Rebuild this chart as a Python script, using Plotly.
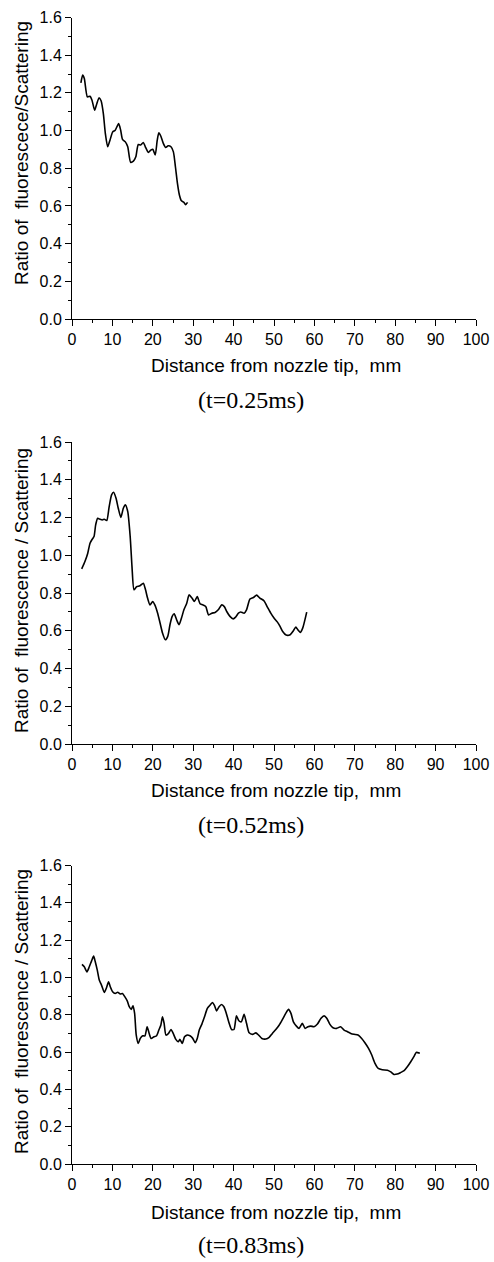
import plotly.graph_objects as go

# ---- data ----
x1 = [2.2, 2.64, 3.05, 3.8, 4.46, 4.95, 5.6, 6.1, 6.7, 7.2, 7.76, 8.25, 8.83, 9.4, 10.07, 10.7,
      11.55, 12.05, 12.5, 13.2, 13.8, 14.5, 15.2, 15.8, 16.4, 17.0, 17.65, 18.15, 18.9, 19.5,
      20.0, 20.6, 21.1, 21.5, 22.0, 22.6, 23.2, 23.8, 24.5, 25.1, 25.6, 26.1, 26.6, 27.1, 27.7,
      28.1, 28.6]
y1 = [1.253, 1.294, 1.276, 1.179, 1.182, 1.161, 1.108, 1.14, 1.174, 1.158, 1.09, 0.985, 0.914,
      0.949, 0.993, 1.002, 1.037, 1.002, 0.953, 0.94, 0.914, 0.832, 0.838, 0.861, 0.926, 0.923,
      0.937, 0.914, 0.884, 0.896, 0.901, 0.87, 0.949, 0.988, 0.97, 0.932, 0.91, 0.919, 0.914,
      0.887, 0.808, 0.72, 0.657, 0.627, 0.619, 0.606, 0.619]

x2 = [2.4, 3.2, 3.9, 4.46, 5.0, 5.45, 5.86, 6.36, 6.9, 7.5, 8.0, 8.6, 9.2, 9.8, 10.3, 10.9,
      11.45, 12.1, 12.7, 13.2, 13.8, 14.4, 14.85, 15.35, 16.0, 16.8, 17.65, 18.2, 18.7, 19.3,
      19.97, 20.5, 21.2, 21.8, 22.4, 23.1, 23.7, 24.25, 24.8, 25.3, 25.9, 26.5, 27.1, 27.7,
      28.4, 29.0, 29.7, 30.3, 31.0, 31.7, 32.35, 33.1, 33.8, 34.6, 35.4, 36.2, 37.05, 37.7,
      38.3, 39.1, 39.9, 40.5, 41.2, 41.75, 42.6, 43.2, 44.05, 44.9, 45.7, 46.5, 47.5, 48.3,
      49.2, 50.0, 50.8, 51.5, 52.15, 53.0, 54.0, 54.8, 55.4, 55.9, 56.5, 57.1, 58.1]
y2 = [0.928, 0.967, 1.011, 1.064, 1.085, 1.099, 1.161, 1.196, 1.191, 1.187, 1.191, 1.184,
      1.258, 1.32, 1.334, 1.302, 1.249, 1.2, 1.249, 1.267, 1.231, 1.099, 0.94, 0.817, 0.834,
      0.838, 0.852, 0.817, 0.773, 0.737, 0.755, 0.737, 0.693, 0.641, 0.588, 0.552, 0.57,
      0.632, 0.676, 0.69, 0.658, 0.632, 0.667, 0.711, 0.746, 0.79, 0.773, 0.755, 0.781, 0.743,
      0.737, 0.728, 0.684, 0.693, 0.697, 0.711, 0.737, 0.728, 0.702, 0.676, 0.663, 0.672,
      0.693, 0.699, 0.693, 0.711, 0.768, 0.776, 0.789, 0.773, 0.759, 0.728, 0.693, 0.667,
      0.647, 0.623, 0.596, 0.577, 0.579, 0.6, 0.619, 0.605, 0.591, 0.614, 0.699]

x3 = [2.47, 3.04, 3.7, 4.28, 4.85, 5.35, 5.76, 6.26, 6.75, 7.3, 8.0, 8.56, 9.05, 9.47, 10.05,
      10.7, 11.3, 11.95, 12.5, 13.1, 13.7, 14.17, 14.67, 15.1, 15.5, 15.9, 16.4, 16.9, 17.5,
      18.05, 18.6, 19.1, 19.6, 20.3, 20.9, 21.5, 22.0, 22.4, 22.8, 23.25, 23.9, 24.5, 25.05,
      25.7, 26.3, 26.7, 27.3, 27.85, 28.5, 29.2, 29.8, 30.5, 31.0, 31.5, 32.15, 32.8, 33.5,
      34.2, 34.8, 35.3, 35.8, 36.4, 37.0, 37.6, 38.2, 38.9, 39.5, 40.1, 40.7, 41.3, 41.9,
      42.6, 43.2, 43.85, 44.7, 45.5, 46.2, 47.0, 48.0, 48.8, 49.6, 50.45, 51.3, 52.1, 52.9,
      53.6, 54.2, 54.8, 55.55, 56.2, 57.0, 57.7, 58.4, 59.1, 59.9, 60.75, 61.6, 62.4, 63.1,
      63.8, 64.6, 65.5, 66.5, 67.35, 68.2, 69.0, 69.8, 70.8, 71.7, 72.5, 73.4, 74.2, 75.0,
      75.8, 76.8, 78.1, 78.9, 79.7, 80.5, 81.4, 82.2, 83.0, 83.85, 84.7, 85.2, 86.1]
y3 = [1.07, 1.057, 1.03, 1.057, 1.089, 1.114, 1.084, 1.039, 0.986, 0.959, 0.92, 0.946, 0.977,
      0.95, 0.923, 0.914, 0.921, 0.911, 0.914, 0.896, 0.873, 0.843, 0.829, 0.848, 0.807,
      0.691, 0.646, 0.673, 0.687, 0.687, 0.735, 0.7, 0.673, 0.682, 0.686, 0.718, 0.745, 0.789,
      0.754, 0.691, 0.7, 0.721, 0.7, 0.668, 0.655, 0.668, 0.646, 0.682, 0.691, 0.687, 0.676,
      0.65, 0.673, 0.718, 0.75, 0.789, 0.834, 0.852, 0.866, 0.848, 0.821, 0.843, 0.855,
      0.843, 0.807, 0.754, 0.721, 0.721, 0.794, 0.768, 0.762, 0.802, 0.754, 0.703, 0.695,
      0.703, 0.691, 0.673, 0.67, 0.679, 0.7, 0.721, 0.745, 0.775, 0.807, 0.829, 0.807, 0.762,
      0.739, 0.727, 0.754, 0.727, 0.736, 0.739, 0.736, 0.75, 0.78, 0.794, 0.78, 0.75, 0.73,
      0.727, 0.736, 0.718, 0.709, 0.7, 0.695, 0.691, 0.673, 0.65, 0.62, 0.584, 0.539, 0.512,
      0.505, 0.503, 0.494, 0.48, 0.482, 0.491, 0.5, 0.521, 0.548, 0.578, 0.598, 0.593]

y_titles = ["Ratio of  fluorescece/Scattering",
            "Ratio of  fluorescence / Scattering",
            "Ratio of  fluorescence / Scattering"]
x_title = "Distance from nozzle tip,  mm"
captions = ["(t=0.25ms)", "(t=0.52ms)", "(t=0.83ms)"]

series = [(x1, y1), (x2, y2), (x3, y3)]

# ---- layout geometry (pixels) ----
W, H = 494, 1262
x_left, x_right = 72, 476
panels_px = [(17.5, 319), (442, 744), (865.5, 1164)]  # (top, bottom) of plot area
xtitle_py = [366, 791, 1212]
caption_py = [400, 825, 1245]
ytitle_py = [153, 591, 1012]


def py2paper(py):
    return 1 - py / H


fig = go.Figure()
layout = dict(width=W, height=H, margin=dict(l=0, r=0, t=0, b=0, pad=0),
              template="none", autosize=False,
              paper_bgcolor="white", plot_bgcolor="white", showlegend=False)

tickfont = dict(family="Liberation Sans, Arial", size=16, color="black")
annotations = []
for i, (xs, ys) in enumerate(series):
    n = "" if i == 0 else str(i + 1)
    fig.add_trace(go.Scatter(x=xs, y=ys, mode="lines",
                             line=dict(color="black", width=1.6, shape="spline", smoothing=0.6),
                             xaxis="x" + n, yaxis="y" + n, hoverinfo="skip"))
    top, bot = panels_px[i]
    layout["xaxis" + n] = dict(domain=[x_left / W, x_right / W], anchor="y" + n,
                               range=[0, 100], tick0=0, dtick=10, ticks="outside",
                               ticklen=6, tickwidth=1, tickcolor="black",
                               showline=True, linecolor="black", linewidth=1,
                               showgrid=False, zeroline=False, tickfont=tickfont,
                               automargin=False,
                               minor=dict(dtick=5, ticks="outside", ticklen=3,
                                          tickcolor="black", tickwidth=1, showgrid=False),
                               fixedrange=True)
    layout["yaxis" + n] = dict(domain=[py2paper(bot), py2paper(top)], anchor="x" + n,
                               range=[0, 1.6], tick0=0, dtick=0.2, tickformat=".1f",
                               ticks="outside", ticklen=6, tickwidth=1, tickcolor="black",
                               showline=True, linecolor="black", linewidth=1,
                               showgrid=False, zeroline=False, tickfont=tickfont,
                               automargin=False,
                               minor=dict(dtick=0.1, ticks="outside", ticklen=3,
                                          tickcolor="black", tickwidth=1, showgrid=False),
                               fixedrange=True)
    annotations.append(dict(text=x_title, xref="paper", yref="paper",
                            x=276 / W, y=py2paper(xtitle_py[i]), showarrow=False,
                            xanchor="center", yanchor="middle",
                            font=dict(family="Liberation Sans, Arial", size=19, color="black")))
    annotations.append(dict(text=y_titles[i], xref="paper", yref="paper",
                            x=21 / W, y=py2paper(ytitle_py[i]), showarrow=False,
                            textangle=-90, xanchor="center", yanchor="middle",
                            font=dict(family="Liberation Sans, Arial", size=19, color="black")))
    annotations.append(dict(text=captions[i], xref="paper", yref="paper",
                            x=251 / W, y=py2paper(caption_py[i]), showarrow=False,
                            xanchor="center", yanchor="middle",
                            font=dict(family="Liberation Serif, Times New Roman", size=24,
                                      color="black")))

layout["annotations"] = annotations
fig.update_layout(**layout)
fig.write_html("out.html", config={"displayModeBar": False},
               post_script="document.body.style.margin='0';document.body.style.overflow='hidden';")
